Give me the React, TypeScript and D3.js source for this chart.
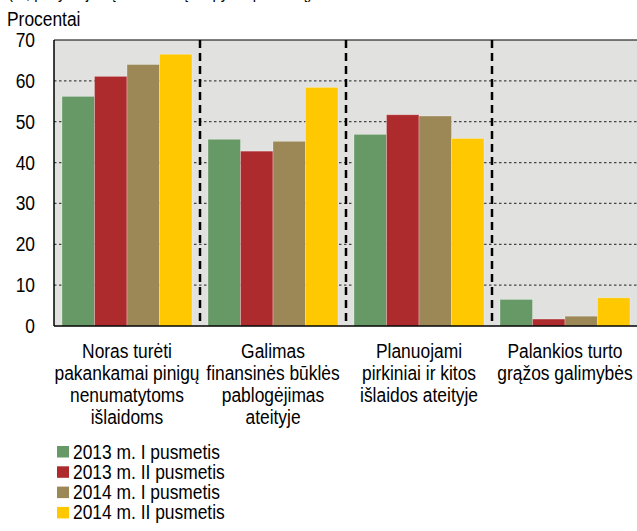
import React from "react";
import * as d3 from "d3";

const categories: string[][] = [
  ["Noras turėti", "pakankamai pinigų", "nenumatytoms", "išlaidoms"],
  ["Galimas", "finansinės būklės", "pablogėjimas", "ateityje"],
  ["Planuojami", "pirkiniai ir kitos", "išlaidos ateityje"],
  ["Palankios turto", "grąžos galimybės"],
];
const seriesNames = ["2013 m. I pusmetis", "2013 m. II pusmetis", "2014 m. I pusmetis", "2014 m. II pusmetis"];
const s2013H1 = [56.2, 45.7, 46.9, 6.5];
const s2013H2 = [61.1, 42.8, 51.7, 1.7];
const s2014H1 = [64.0, 45.2, 51.4, 2.4];
const s2014H2 = [66.5, 58.4, 45.9, 6.9];
const seriesValues = [s2013H1, s2013H2, s2014H1, s2014H2];
const colors = ["#669966", "#AD2B2D", "#9C8856", "#FFC800"];
const yTicks = [0, 10, 20, 30, 40, 50, 60, 70];
const yLabel = "Procentai";
const topText = "(%, pažymėjusių atitinkamą taupymo priežastį)";

const FONT = "'Liberation Sans', Arial, sans-serif";

function T({ x, y, anchor = "start", children, size = 20 }: any) {
  return (
    <text
      transform={`translate(${x},${y}) scale(0.87,1)`}
      textAnchor={anchor}
      fontSize={size}
      fontFamily={FONT}
      fill="#000"
    >
      {children}
    </text>
  );
}

export default function App() {
  const W = 637, H = 531;
  const left = 54, right = 638, top = 40, bottom = 326;
  const x0 = d3.scaleBand<number>().domain(d3.range(categories.length)).range([left, right]).padding(0);
  const x1 = d3.scaleBand<number>().domain(d3.range(seriesNames.length)).range([8, x0.bandwidth() - 8]).padding(0);
  const y = d3.scaleLinear().domain([0, 70]).range([bottom, top]);

  return (
    <svg width={W} height={H} style={{ position: "absolute", left: 0, top: 0, display: "block" }}>
      <rect x={0} y={0} width={W} height={H} fill="#fff" />
      <T x={8} y={-1} size={17}>{topText}</T>
      <T x={7} y={26}>{yLabel}</T>
      <rect x={left} y={top} width={right - left} height={bottom - top} fill="#E1E2E0" />
      {yTicks.filter((t) => t > 0 && t < 70).map((t) => (
        <line key={t} x1={left} x2={right} y1={y(t)} y2={y(t)} stroke="#444" strokeWidth={1.3} strokeDasharray="2.5,2.5" />
      ))}
      {categories.map((_, ci) =>
        seriesValues.map((vals, si) => (
          <rect
            key={`${ci}-${si}`}
            x={x0(ci)! + x1(si)!}
            y={y(vals[ci])}
            width={x1.bandwidth()}
            height={bottom - y(vals[ci])}
            fill={colors[si]}
            stroke="rgba(255,255,255,0.35)"
            strokeWidth={0.8}
          />
        ))
      )}
      {d3.range(1, categories.length).map((ci) => (
        <line key={ci} x1={x0(ci)!} x2={x0(ci)!} y1={top} y2={bottom} stroke="#000" strokeWidth={2.5} strokeDasharray="8,5" />
      ))}
      <line x1={left} x2={right} y1={top} y2={top} stroke="#000" strokeWidth={1.2} />
      <line x1={left} x2={left} y1={top} y2={bottom} stroke="#000" strokeWidth={1.5} />
      <line x1={left} x2={right} y1={bottom} y2={bottom} stroke="#000" strokeWidth={1.5} />
      {yTicks.map((t) => (
        <T key={t} x={35} y={y(t) + 7} anchor="end">{String(t)}</T>
      ))}
      {categories.map((lines, ci) =>
        lines.map((ln, li) => (
          <T key={`${ci}-${li}`} x={x0(ci)! + x0.bandwidth() / 2} y={357.5 + li * 22.3} anchor="middle">{ln}</T>
        ))
      )}
      {seriesNames.map((n, si) => (
        <g key={n}>
          <rect x={57} y={446 + si * 20.3} width={12} height={11.5} fill={colors[si]} />
          <T x={73} y={458.5 + si * 20.3}>{n}</T>
        </g>
      ))}
    </svg>
  );
}
